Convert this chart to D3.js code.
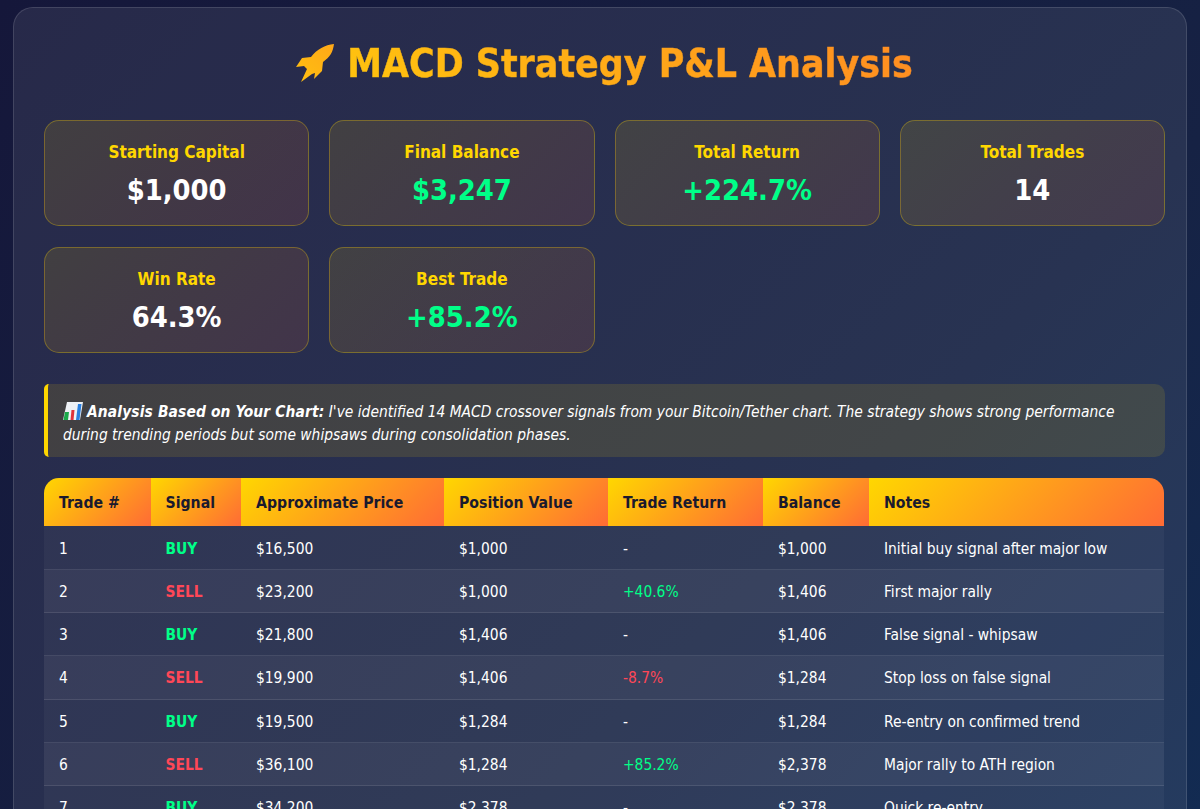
<!DOCTYPE html>
<html>
<head>
<meta charset="utf-8">
<title>MACD Strategy P&amp;L Analysis</title>
<script src="https://d3js.org/d3.v7.min.js"></script>
<style>
  html, body { margin: 0; padding: 0; }
  body {
    width: 1200px; height: 809px; overflow: hidden; position: relative;
    background: linear-gradient(135deg, #15173a 0%, #162244 50%, #0f3460 100%) 0 0 / 1200px 1480px no-repeat;
    font-family: "DejaVu Sans Condensed", "DejaVu Sans", sans-serif;
    color: #fff;
  }
  .abs { position: absolute; box-sizing: border-box; }
  #panel {
    left: 13px; top: 7px; width: 1174px; height: 900px; border-radius: 20px;
    background: rgba(255,255,255,0.08); border: 1px solid rgba(255,255,255,0.13);
  }
  #title {
    left: 4px; width: 1200px; top: 39px; text-align: center; font-size: 38.8px; line-height: 50px; font-weight: bold;
  }
  #title span {
    background: linear-gradient(45deg, #ffc40e, #ff8c22);
    -webkit-background-clip: text; background-clip: text; color: transparent;
    -webkit-text-stroke: 0.5px transparent;
  }
  #title svg { vertical-align: -6px; margin-right: 12px; }
  .card {
    border-radius: 15px; text-align: center;
    background: linear-gradient(135deg, rgba(255,215,0,0.12), rgba(255,107,53,0.12));
    border: 1px solid rgba(255,215,0,0.3);
  }
  .card .lab { margin-top: 20px; font-size: 17px; line-height: 22px; font-weight: bold; color: #ffd700; }
  .card .val { margin-top: 9px; font-size: 28.8px; line-height: 36px; font-weight: bold; }
  .pos { color: #00ff88; }
  .neg { color: #ff4757; }
  #note {
    left: 44px; top: 384px; width: 1121px; height: 73px; border-radius: 5px 10px 10px 5px;
    background: rgba(255,215,0,0.12); border-left: 4px solid #ffd700;
    padding: 17px 15px; font-size: 15.4px; line-height: 23px; font-style: italic;
  }
  #note strong { letter-spacing: 0.13px; }
  #note svg { vertical-align: -3px; margin-right: 4px; }
  #table {
    left: 44px; top: 478px; width: 1120px; height: 420px; border-radius: 15px; overflow: hidden;
    background: rgba(255,255,255,0.04);
  }
  .th {
    top: 0; height: 48px; line-height: 49px; padding-left: 15px; font-size: 15.7px; font-weight: bold; color: #1a1a2e;
    background: linear-gradient(135deg, #ffd700, #ff6b35);
  }
  .row { left: 0; width: 1120px; border-bottom: 1px solid rgba(255,255,255,0.1); }
  .row.even { background: rgba(255,255,255,0.04); }
  .td { padding-left: 15px; font-size: 15.4px; white-space: nowrap; }
  .sig { font-weight: bold; }
</style>
</head>
<body>
<script>
// summary cards
var cardLabels = ["Starting Capital", "Final Balance", "Total Return", "Total Trades", "Win Rate", "Best Trade"];
var cardValues = ["$1,000", "$3,247", "+224.7%", "14", "64.3%", "+85.2%"];
var cardPositive = [false, true, true, false, false, true];

// trade table
var columns = ["Trade #", "Signal", "Approximate Price", "Position Value", "Trade Return", "Balance", "Notes"];
var tradeNums = ["1", "2", "3", "4", "5", "6", "7"];
var signals = ["BUY", "SELL", "BUY", "SELL", "BUY", "SELL", "BUY"];
var prices = ["$16,500", "$23,200", "$21,800", "$19,900", "$19,500", "$36,100", "$34,200"];
var positions = ["$1,000", "$1,000", "$1,406", "$1,406", "$1,284", "$1,284", "$2,378"];
var returns = ["-", "+40.6%", "-", "-8.7%", "-", "+85.2%", "-"];
var balances = ["$1,000", "$1,406", "$1,406", "$1,284", "$1,284", "$2,378", "$2,378"];
var notes = ["Initial buy signal after major low", "First major rally", "False signal - whipsaw", "Stop loss on false signal",
  "Re-entry on confirmed trend", "Major rally to ATH region", "Quick re-entry"];

var body = d3.select("body");

body.append("div").attr("id", "panel").attr("class", "abs");

// title, the rocket is drawn because no emoji font is around
var title = body.append("div").attr("id", "title").attr("class", "abs");
var rocket = title.append("svg").attr("width", 40).attr("height", 40).attr("viewBox", "0 0 40 40");
var grad = rocket.append("defs").append("linearGradient").attr("id", "rocketFill")
  .attr("x1", 0).attr("y1", 1).attr("x2", 1).attr("y2", 0);
grad.append("stop").attr("offset", 0).attr("stop-color", "#ffc010");
grad.append("stop").attr("offset", 1).attr("stop-color", "#ffa818");
rocket.append("path").attr("fill", "url(#rocketFill)")
  .attr("d", "M39 1 C30 2 22 6 16 14 L7 15 L1 24 L9 23 L12 26 L6 39 L17 31 L20 30 L19 36 L27 28 L28 19 C35 14 38 9 39 1 Z");
title.append("span").text("MACD Strategy P&L Analysis");

// cards
var cardX = d3.scaleBand().domain(d3.range(4)).range([44, 1165]).paddingInner(20 / 285.25).paddingOuter(0);
var cardY = d3.scaleBand().domain(d3.range(2)).range([120, 353]).paddingInner(20 / 116.5).paddingOuter(0);

var cards = body.selectAll(".card").data(cardLabels).enter().append("div")
  .attr("class", "card abs")
  .style("left", (d, i) => cardX(i % 4) + "px")
  .style("top", (d, i) => cardY(Math.floor(i / 4)) + "px")
  .style("width", cardX.bandwidth() + "px")
  .style("height", cardY.bandwidth() + "px");
cards.append("div").attr("class", "lab").text(d => d);
cards.append("div").attr("class", (d, i) => "val" + (cardPositive[i] ? " pos" : "")).text((d, i) => cardValues[i]);

// analysis note
var note = body.append("div").attr("id", "note").attr("class", "abs");
var icon = note.append("svg").attr("width", 20).attr("height", 18).attr("viewBox", "0 0 20 18");
icon.append("path").attr("d", "M4 0 L20 0 L17 18 L0 18 Z").attr("fill", "#eef1f6");
icon.append("path").attr("d", "M2 10 L6 10 L5 18 L0.5 18 Z").attr("fill", "#1aa84a");
icon.append("path").attr("d", "M8.5 8 L11.5 8 L10.5 18 L7.5 18 Z").attr("fill", "#e0323c");
icon.append("path").attr("d", "M15 2 L18.5 2 L16.5 18 L13 18 Z").attr("fill", "#2a7fe0");
note.append("strong").text("Analysis Based on Your Chart:");
note.append("span").text(" I've identified 14 MACD crossover signals from your Bitcoin/Tether chart. The strategy shows strong performance during trending periods but some whipsaws during consolidation phases.");

// table
var table = body.append("div").attr("id", "table").attr("class", "abs");
var colEdges = [0, 106.5, 197, 400, 564, 719, 825, 1120];
var colX = d3.scaleOrdinal().domain(columns).range(colEdges.slice(0, -1));
var colW = d3.scaleOrdinal().domain(columns).range(colEdges.slice(1).map((d, i) => d - colEdges[i]));

table.selectAll(".th").data(columns).enter().append("div")
  .attr("class", "th abs")
  .style("left", d => colX(d) + "px")
  .style("width", d => colW(d) + "px")
  .text(d => d);

var rowY = d3.scaleBand().domain(tradeNums).range([48.5, 48.5 + 43.25 * tradeNums.length]);

var rows = table.selectAll(".row").data(tradeNums).enter().append("div")
  .attr("class", (d, i) => "row abs" + (i % 2 ? " even" : ""))
  .style("top", d => rowY(d) + "px")
  .style("height", rowY.bandwidth() + "px");

var cellText = [tradeNums, signals, prices, positions, returns, balances, notes];

rows.each(function(d, r) {
  d3.select(this).selectAll(".td").data(columns).enter().append("div")
    .attr("class", function(c, i) {
      var val = cellText[i][r];
      if (c == "Signal") return "td abs sig " + (val == "BUY" ? "pos" : "neg");
      if (c == "Trade Return") return "td abs " + (val[0] == "+" ? "pos" : val == "-" ? "" : "neg");
      return "td abs";
    })
    .style("left", c => colX(c) + "px")
    .style("width", c => colW(c) + "px")
    .style("line-height", rowY.bandwidth() + 1 + "px")
    .text((c, i) => cellText[i][r]);
});
</script>
</body>
</html>
